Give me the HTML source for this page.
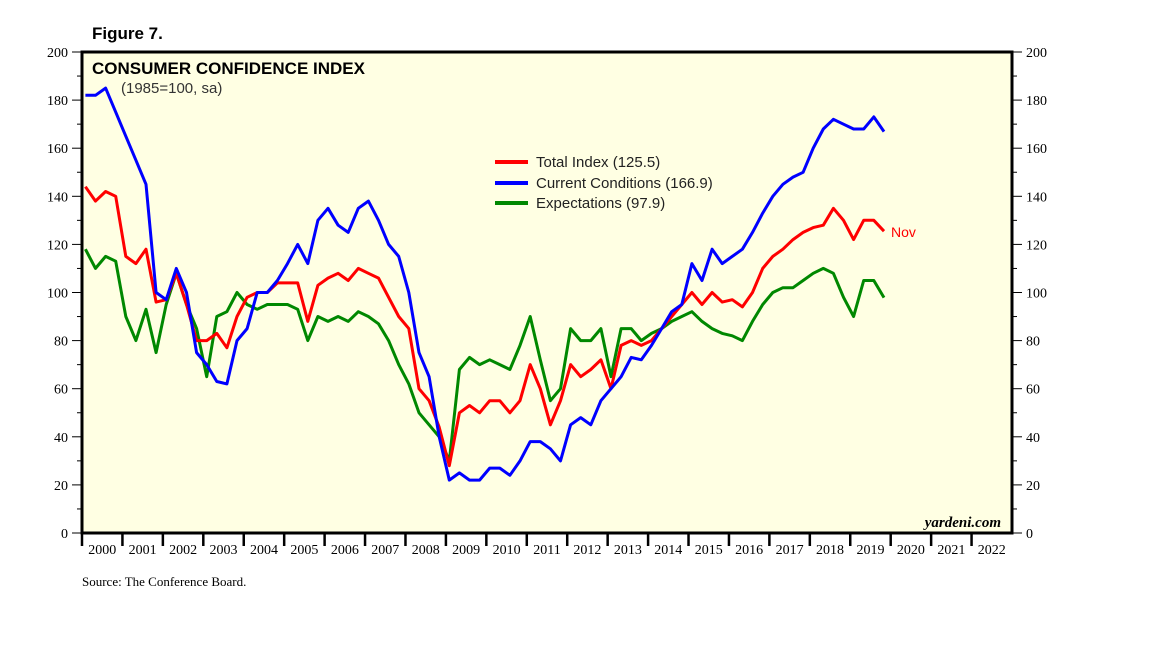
<!DOCTYPE html>
<html><head><meta charset="utf-8"><style>
body{margin:0;background:#fff;}
svg text{font-family:"Liberation Serif",serif;}
</style></head><body>
<svg id="chart" width="1152" height="648" viewBox="0 0 1152 648" xmlns="http://www.w3.org/2000/svg">
<text x="92" y="39" font-size="17" font-weight="bold" style="font-family:'Liberation Sans',sans-serif">Figure 7.</text>
<rect x="82" y="52" width="930" height="481" fill="#ffffe3"/>
<g id="grid"></g>
<g id="series"></g>
<rect x="82" y="52" width="930" height="481" fill="none" stroke="#000" stroke-width="3"/>
<text x="92" y="74" font-size="17" font-weight="bold" style="font-family:'Liberation Sans',sans-serif">CONSUMER CONFIDENCE INDEX</text>
<text x="121" y="93" font-size="15" fill="#333" style="font-family:'Liberation Sans',sans-serif">(1985=100, sa)</text>
<g style="font-family:'Liberation Sans',sans-serif" font-size="15">
<line x1="495" y1="162" x2="528" y2="162" stroke="#f00" stroke-width="4"/>
<text x="536" y="167" style="font-family:'Liberation Sans',sans-serif" fill="#222">Total Index (125.5)</text>
<line x1="495" y1="183" x2="528" y2="183" stroke="#00f" stroke-width="4"/>
<text x="536" y="188" style="font-family:'Liberation Sans',sans-serif" fill="#222">Current Conditions (166.9)</text>
<line x1="495" y1="203" x2="528" y2="203" stroke="#080" stroke-width="4"/>
<text x="536" y="208" style="font-family:'Liberation Sans',sans-serif" fill="#222">Expectations (97.9)</text>
</g>
<text x="891" y="237" font-size="14" fill="#f00" style="font-family:'Liberation Sans',sans-serif">Nov</text>
<text x="1001" y="527" font-size="15" font-weight="bold" font-style="italic" text-anchor="end">yardeni.com</text>
<text x="82" y="586" font-size="13">Source: The Conference Board.</text>
</svg>
<script>
const yTicks=[0,20,40,60,80,100,120,140,160,180,200];
const years=[2000,2001,2002,2003,2004,2005,2006,2007,2008,2009,2010,2011,2012,2013,2014,2015,2016,2017,2018,2019,2020,2021,2022];
const totalIndex=[144,138,142,140,115,112,118,96,97,108,95,80,80,83,77,90,98,100,100,104,104,104,88,103,106,108,105,110,108,106,98,90,85,60,55,44,28,50,53,50,55,55,50,55,70,60,45,55,70,65,68,72,60,78,80,78,80,85,90,95,100,95,100,96,97,94,100,110,115,118,122,125,127,128,135,130,122,130,130,125.5];
const currentConditions=[182,182,185,175,165,155,145,100,97,110,100,75,70,63,62,80,85,100,100,105,112,120,112,130,135,128,125,135,138,130,120,115,100,75,65,40,22,25,22,22,27,27,24,30,38,38,35,30,45,48,45,55,60,65,73,72,78,85,92,95,112,105,118,112,115,118,125,133,140,145,148,150,160,168,172,170,168,168,173,166.9];
const expectations=[118,110,115,113,90,80,93,75,95,108,95,85,65,90,92,100,95,93,95,95,95,93,80,90,88,90,88,92,90,87,80,70,62,50,45,40,30,68,73,70,72,70,68,78,90,72,55,60,85,80,80,85,65,85,85,80,83,85,88,90,92,88,85,83,82,80,88,95,100,102,102,105,108,110,108,98,90,105,105,97.9];
const X0=82,X1=1012,Y0=533,Y1=52,Ystart=2000,Yend=2023;
const xs=t=>X0+(t-Ystart)/(Yend-Ystart)*(X1-X0);
const ys=v=>Y0-v/200*(Y0-Y1);
const NS="http://www.w3.org/2000/svg";
const grid=document.getElementById('grid');
function mk(tag,attrs,parent){const e=document.createElementNS(NS,tag);for(const k in attrs)e.setAttribute(k,attrs[k]);parent.appendChild(e);return e;}
for(let v=0;v<=200;v+=10){
  const y=ys(v),major=v%20===0;
  const l=mk('line',{x1:X0-(major?10:5),x2:X0,y1:y,y2:y,stroke:'#000'},grid);
  
  
  const r=mk('line',{x1:X1,x2:X1+(major?10:5),y1:y,y2:y,stroke:'#000'},grid);
  
  
}
yTicks.forEach(v=>{
  const t=mk('text',{x:X0-14,y:ys(v)+5,'font-size':14,'text-anchor':'end'},grid);t.textContent=v;
  
  
  const t2=mk('text',{x:X1+14,y:ys(v)+5,'font-size':14},grid);t2.textContent=v;
  
  
});
years.forEach(yr=>{
  const x=xs(yr);
  const l=mk('line',{x1:x,x2:x,y1:Y0,y2:Y0+13,stroke:'#000','stroke-width':2.5},grid);
  
  
  const t=mk('text',{x:xs(yr+0.5),y:Y0+21,'font-size':14,'text-anchor':'middle'},grid);t.textContent=yr;
  
  
});
const sg=document.getElementById('series');
function draw(arr,color,name){
  const d=arr.map((v,i)=>(i?'L':'M')+xs(Ystart+(i*3+1)/12).toFixed(1)+','+ys(v).toFixed(1)).join('');
  const p=mk('path',{d:d,fill:'none',stroke:color,'stroke-width':3,'stroke-linejoin':'round'},sg);
  
  
}
draw(expectations,'#080','expectations-line');
draw(totalIndex,'#f00','total-index-line');
draw(currentConditions,'#00f','current-conditions-line');
</script>
</body></html>
